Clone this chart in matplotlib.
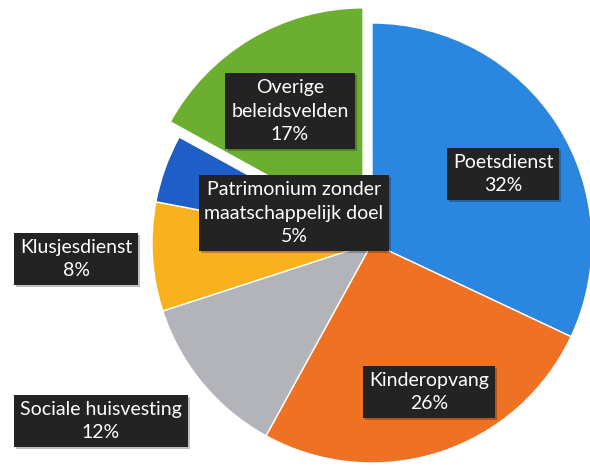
import matplotlib
matplotlib.use("Agg")
import matplotlib.pyplot as plt
import matplotlib.patheffects as pe

labels = ["Poetsdienst", "Kinderopvang", "Sociale huisvesting", "Klusjesdienst",
          "Patrimonium zonder\nmaatschappelijk doel", "Overige\nbeleidsvelden"]
values = [32, 26, 12, 8, 5, 17]
colors = ["#2A86DE", "#EF7124", "#B3B4BA", "#F9B11D", "#1F5EC6", "#6BAE30"]
explode = [0, 0, 0, 0, 0, 0.08]

# label box centres in figure pixels (x from left, y from top)
label_px = [(503, 174), (429, 392), (101, 421), (76, 259), (294, 213), (290, 111)]

W, H = 590, 473
cx, cy, R = 372, 243, 220

fig = plt.figure(figsize=(W / 100, H / 100), dpi=100)
ax = fig.add_axes([0, 0, 1, 1])

ax.pie(values, colors=colors, explode=explode, startangle=90, counterclock=False,
       radius=1.0, wedgeprops=dict(edgecolor="white", linewidth=1.0))

ax.set_xlim(-cx / R, (W - cx) / R)
ax.set_ylim((cy - H) / R, cy / R)
ax.set_aspect("equal")
ax.axis("off")

for lab, v, (px, py) in zip(labels, values, label_px):
    x = (px - cx) / R
    y = (cy - py) / R
    t = ax.text(x, y, f"{lab}\n{v}%", ha="center", va="center", color="white",
                fontsize=14, family="Lato", linespacing=1.45,
                bbox=dict(boxstyle="square,pad=0.3", facecolor="#232323", edgecolor="none"))
    t.get_bbox_patch().set_path_effects([
        pe.SimplePatchShadow(offset=(1.5, -1.5), shadow_rgbFace="#000000", alpha=0.25),
        pe.Normal()])

fig.savefig("out.png", dpi=100)
